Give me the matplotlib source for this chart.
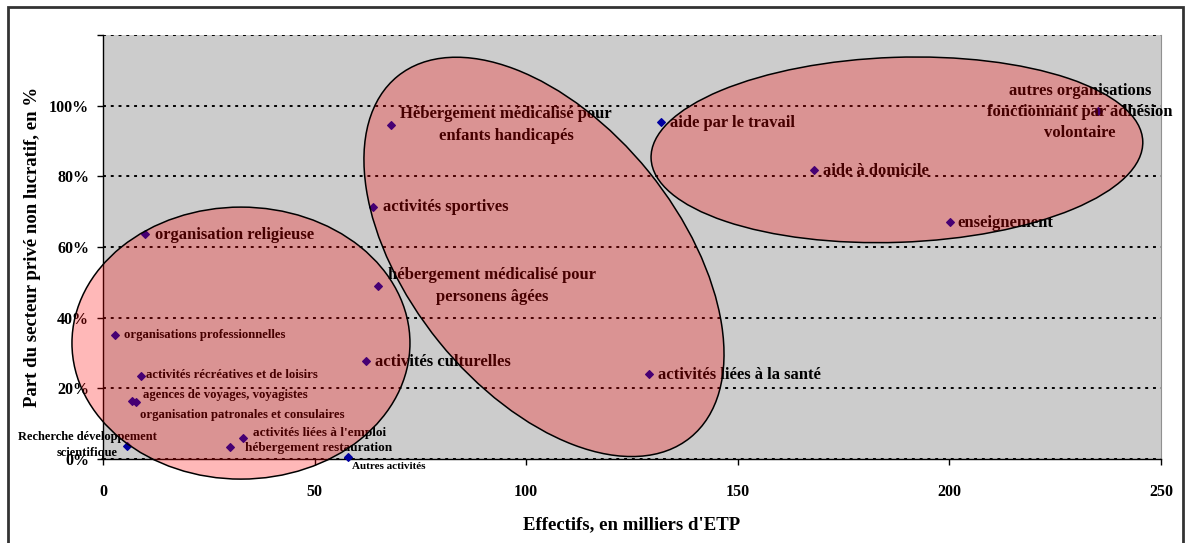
import matplotlib
matplotlib.use("Agg")
import matplotlib.pyplot as plt
from matplotlib.patches import Ellipse, Rectangle
from matplotlib.transforms import ScaledTranslation
from matplotlib.ticker import FuncFormatter

# Données : effectifs (milliers d'ETP) et part du privé non lucratif (%)
etiquettes = [
    "Recherche développement\nscientifique",
    "organisations professionnelles",
    "activités récréatives et de loisirs",
    "agences de voyages, voyagistes",
    "organisation patronales et consulaires",
    "organisation religieuse",
    "hébergement restauration",
    "activités liées à l'emploi",
    "Autres activités",
    "activités culturelles",
    "activités sportives",
    "hébergement médicalisé pour\npersonens âgées",
    "Hébergement médicalisé pour\nenfants handicapés",
    "activités liées à la santé",
    "aide par le travail",
    "aide à domicile",
    "enseignement",
    "autres organisations\nfonctionnant par adhésion\nvolontaire",
]
effectifs = [5.7, 2.8, 9.0, 7.8, 6.9, 9.9, 30.0, 33.1, 57.9, 62.1, 63.8, 65.0,
             68.1, 129.0, 131.9, 168.0, 200.1, 235.1]
part_pnl = [3.7, 35.1, 23.5, 16.1, 16.4, 63.7, 3.4, 5.9, 0.6, 27.7, 71.3, 49.0,
            94.5, 24.1, 95.4, 81.8, 67.1, 98.5]

# mise en page des étiquettes : décalage en pixels, alignement, taille
decalages = [(-40, 1, 'center', 9), (9, 0, 'left', 9.2), (5, 1, 'left', 9.2),
             (7, 7, 'left', 9.2), (8, -14, 'left', 9.2), (10, -1, 'left', 12),
             (15, -1, 'left', 9.5), (10, 5, 'left', 9.5), (4, -10, 'left', 8),
             (9, -1, 'left', 12), (10, 0, 'left', 12), (114, 0, 'center', 12),
             (115, 0, 'center', 12), (9, -1, 'left', 12), (9, -1, 'left', 12),
             (9, -1, 'left', 12), (8, -1, 'left', 12), (-18, -1, 'center', 12)]

# ellipses de regroupement : centre (données), largeur/hauteur (px), angle
groupes = [((32.6, 32.8), 338, 272, 0), ((104.2, 57.2), 465, 270, -51),
           ((187.6, 87.5), 492, 185, 2)]

plt.rcParams['font.family'] = ['Liberation Serif', 'DejaVu Serif']
plt.rcParams['font.weight'] = 'bold'

fig = plt.figure(figsize=(11.87, 5.43), dpi=100)
ax = fig.add_axes([103/1187, 84/543, 1058/1187, 424/543])
ax.set_facecolor('#cccccc')

ax.scatter(effectifs, part_pnl, marker='D', s=15, color='#0000a0', zorder=4,
           clip_on=False)

for txt, x, y, (dx, dy, ha, fs) in zip(etiquettes, effectifs, part_pnl, decalages):
    ax.annotate(txt, (x, y), xytext=(dx, dy), textcoords='offset pixels',
                ha=ha, va='center', fontsize=fs, fontweight='bold',
                multialignment='center', linespacing=1.45, color='black',
                zorder=5, annotation_clip=False)

ax.set_xlim(0, 250)
ax.set_ylim(0, 120)
ax.set_xticks([0, 50, 100, 150, 200, 250])
ax.set_yticks([0, 20, 40, 60, 80, 100, 120])
ax.yaxis.set_major_formatter(FuncFormatter(lambda v, p: '' if v > 100 else f'{v:.0f}%'))
ax.tick_params(axis='both', direction='out', length=4, width=1, labelsize=11.5, pad=6)
ax.tick_params(axis='x', pad=14)
for lab in ax.get_xticklabels() + ax.get_yticklabels():
    lab.set_fontweight('bold')

ax.grid(axis='y', color='black', linestyle=(0, (1.5, 2.5)), linewidth=1.4, zorder=1)
ax.set_axisbelow(True)

ax.spines['top'].set_visible(False)
ax.spines['right'].set_color('#909090')
ax.spines['right'].set_linewidth(0.8)
ax.spines['left'].set_linewidth(1)
ax.spines['bottom'].set_linewidth(1)

ax.set_xlabel("Effectifs, en milliers d'ETP", fontsize=13.5, fontweight='bold', labelpad=12)
ax.set_ylabel("Part du secteur privé non lucratif, en %", fontsize=13.5,
              fontweight='bold', labelpad=6)

# ellipses semi-transparentes par-dessus
for (cx, cy), w, h, ang in groupes:
    tr = fig.dpi_scale_trans + ScaledTranslation(cx, cy, ax.transData)
    e = Ellipse((0, 0), w / 100, h / 100, angle=ang, transform=tr,
                facecolor=(1, 0, 0, 0.28), edgecolor='black', linewidth=1.1,
                zorder=6, clip_on=False)
    ax.add_patch(e)

# cadre extérieur
fig.patches.append(Rectangle((8/1187, -0.01), 1175/1187, 1 - 7/543 + 0.01,
                             transform=fig.transFigure, fill=False,
                             edgecolor='#333333', linewidth=2))

fig.savefig('out.png', dpi=100)
